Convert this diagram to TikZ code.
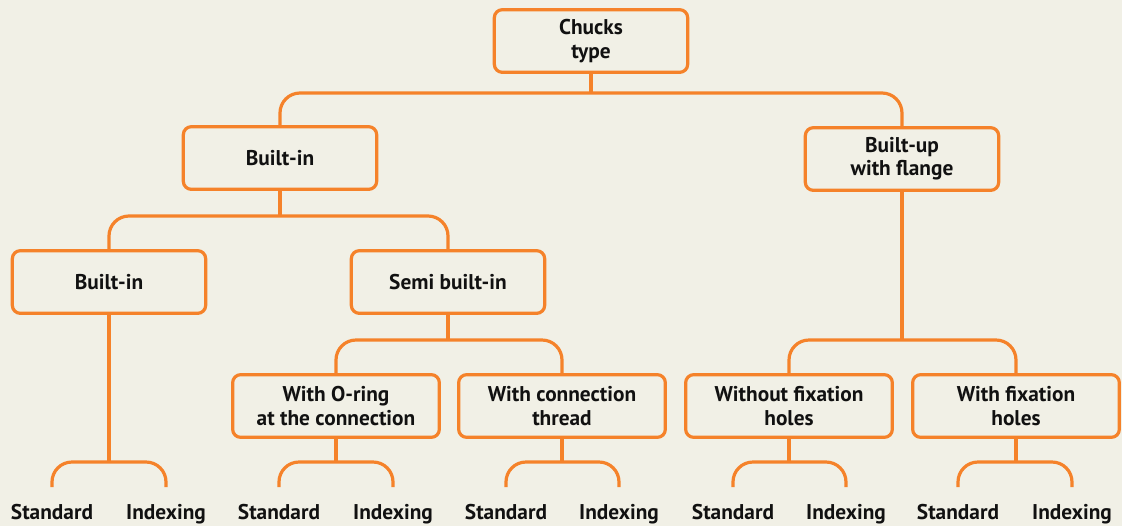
\documentclass[tikz,border=0pt]{standalone}
\usepackage{fontspec}
\setmainfont{PT Sans}

\definecolor{chorange}{HTML}{F5822A}
\definecolor{chpaper}{HTML}{F1F0E6}
\definecolor{chtext}{HTML}{111111}

\tikzset{
  chfont/.style={font=\bfseries\fontsize{16}{17.5}\selectfont, text=chtext},
  box/.style={chfont, draw=chorange, line width=2.4pt, rounded corners=6pt, fill=chpaper, align=center, minimum width=145pt, minimum height=47pt, inner sep=2pt},
  widebox/.style={box, minimum width=155pt},
  leaf/.style={chfont, anchor=base, inner sep=0pt, text height=11pt, text depth=3pt, outer ysep=13pt},
  conn/.style={draw=chorange, line width=2.4pt, rounded corners=15pt},
}

\begin{document}
\begin{tikzpicture}[x=0.75pt,y=0.75pt,yscale=-1,xscale=1]
%set diagram left start at 0, and has height of 526
\fill[chpaper] (0,0) rectangle (1122,526);
\useasboundingbox (0,0) rectangle (1122,526);

% Boxes
\node[box] (root) at (591,41) {Chucks\\type};
\node[box] (builtin) at (280,158) {Built-in};
\node[box] (builtup) at (902,159) {Built-up\\with flange};
\node[box] (inner) at (109,282) {Built-in};
\node[box] (semi) at (448,282) {Semi built-in};
\node[widebox] (oring) at (336,406) {With O-ring\\at the connection};
\node[widebox] (thread) at (562,406) {With connection\\thread};
\node[widebox] (nofix) at (789,406) {Without fixation\\holes};
\node[widebox] (fix) at (1016,406) {With fixation\\holes};

% Leaves
\node[leaf] (stdA) at (52,519) {Standard};
\node[leaf] (idxA) at (166,519) {Indexing};
\node[leaf] (stdB) at (279,519) {Standard};
\node[leaf] (idxB) at (393,519) {Indexing};
\node[leaf] (stdC) at (506,519) {Standard};
\node[leaf] (idxC) at (619,519) {Indexing};
\node[leaf] (stdD) at (733,519) {Standard};
\node[leaf] (idxD) at (846,519) {Indexing};
\node[leaf] (stdE) at (958,519) {Standard};
\node[leaf] (idxE) at (1072,519) {Indexing};

% Junctions
\coordinate (jroot) at (591,93);
\coordinate (jbuiltin) at (280,216);
\coordinate (jsemi) at (448,340);
\coordinate (jbuiltup) at (902,340);
\coordinate (jinner) at (109,462);
\coordinate (joring) at (336,462);
\coordinate (jthread) at (562,462);
\coordinate (jnofix) at (789,462);
\coordinate (jfix) at (1016,462);

% Connectors
\draw[conn] (root) -- (jroot);
\draw[conn] (builtin) |- (jroot) -| (builtup);
\draw[conn] (builtin) -- (jbuiltin);
\draw[conn] (inner) |- (jbuiltin) -| (semi);
\draw[conn] (semi) -- (jsemi);
\draw[conn] (oring) |- (jsemi) -| (thread);
\draw[conn] (builtup) -- (jbuiltup);
\draw[conn] (nofix) |- (jbuiltup) -| (fix);
\draw[conn] (inner) -- (jinner);
\draw[conn] (stdA) |- (jinner) -| (idxA);
\draw[conn] (oring) -- (joring);
\draw[conn] (stdB) |- (joring) -| (idxB);
\draw[conn] (thread) -- (jthread);
\draw[conn] (stdC) |- (jthread) -| (idxC);
\draw[conn] (nofix) -- (jnofix);
\draw[conn] (stdD) |- (jnofix) -| (idxD);
\draw[conn] (fix) -- (jfix);
\draw[conn] (stdE) |- (jfix) -| (idxE);

\end{tikzpicture}
\end{document}
